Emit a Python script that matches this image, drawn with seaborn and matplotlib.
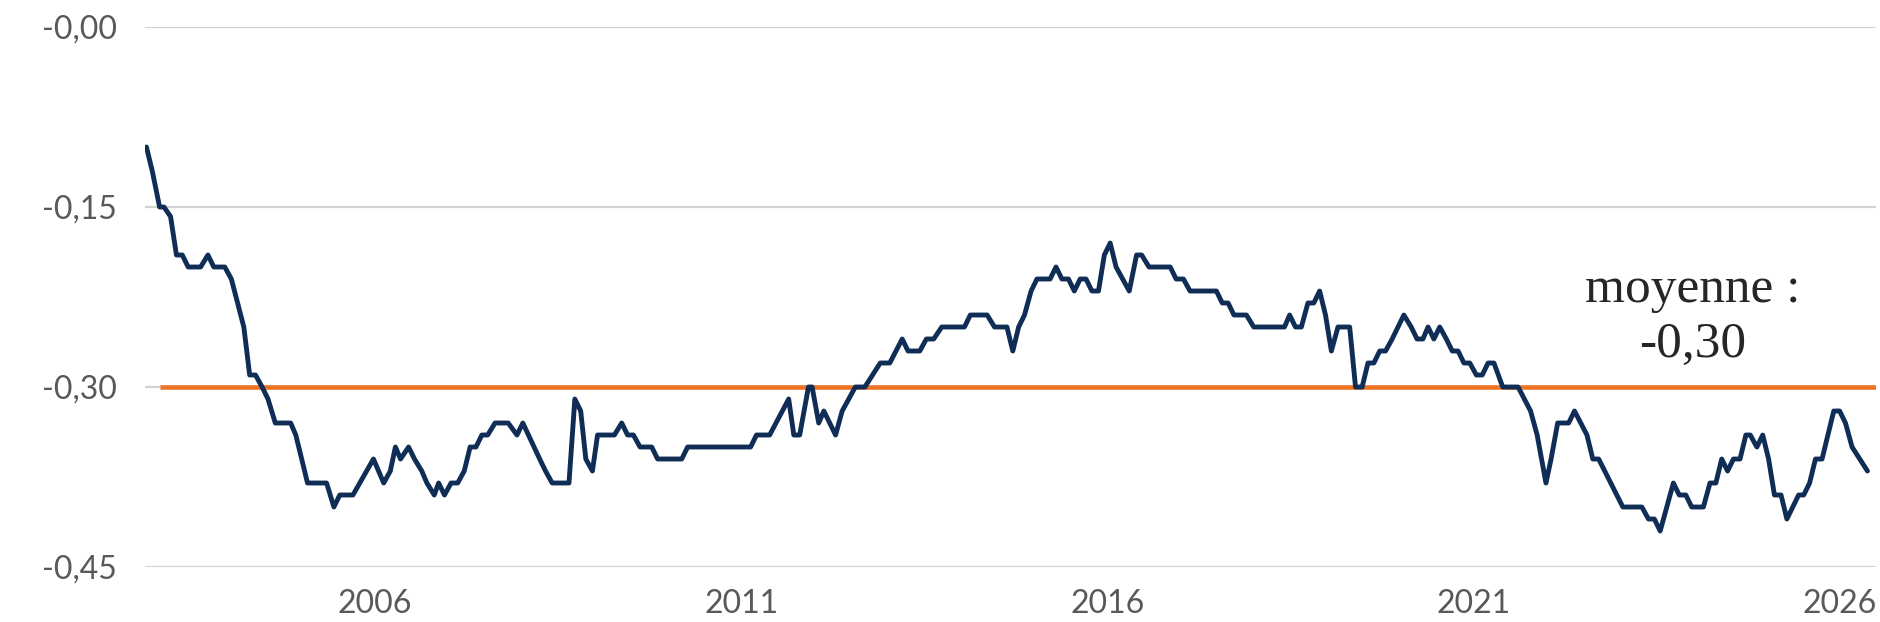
import matplotlib
matplotlib.use("Agg")
import matplotlib.pyplot as plt
import numpy as np
import pandas as pd
import seaborn as sns

# =========================
# données
# =========================

years = [
    2002.88, 2002.96, 2003.06, 2003.12, 2003.21, 2003.29, 2003.37, 2003.45, 2003.62, 2003.72,
    2003.80, 2003.95, 2004.04, 2004.21, 2004.29, 2004.37, 2004.46, 2004.54, 2004.64, 2004.85,
    2004.92, 2005.00, 2005.08, 2005.34, 2005.44, 2005.52, 2005.70, 2005.98, 2006.12, 2006.21,
    2006.28, 2006.35, 2006.46, 2006.54, 2006.64, 2006.71, 2006.81, 2006.87, 2006.95, 2007.04,
    2007.13, 2007.22, 2007.30, 2007.38, 2007.46, 2007.54, 2007.64, 2007.82, 2007.94, 2008.02,
    2008.25, 2008.33, 2008.42, 2008.65, 2008.73, 2008.81, 2008.88, 2008.97, 2009.04, 2009.27,
    2009.37, 2009.45, 2009.53, 2009.62, 2009.78, 2009.86, 2010.19, 2010.27, 2011.13, 2011.21,
    2011.39, 2011.65, 2011.72, 2011.80, 2011.92, 2011.97, 2012.06, 2012.13, 2012.29, 2012.38,
    2012.56, 2012.69, 2012.90, 2013.03, 2013.20, 2013.28, 2013.44, 2013.53, 2013.63, 2013.74,
    2014.05, 2014.13, 2014.36, 2014.46, 2014.63, 2014.71, 2014.79, 2014.87, 2014.96, 2015.04,
    2015.22, 2015.30, 2015.38, 2015.47, 2015.55, 2015.63, 2015.71, 2015.79, 2015.88, 2015.96,
    2016.04, 2016.12, 2016.30, 2016.40, 2016.47, 2016.57, 2016.86, 2016.94, 2017.04, 2017.13,
    2017.49, 2017.57, 2017.65, 2017.73, 2017.90, 2018.00, 2018.42, 2018.49, 2018.57, 2018.65,
    2018.74, 2018.82, 2018.90, 2018.98, 2019.06, 2019.15, 2019.31, 2019.39, 2019.48, 2019.56,
    2019.64, 2019.72, 2019.80, 2019.89, 2020.05, 2020.15, 2020.23, 2020.31, 2020.38, 2020.46,
    2020.54, 2020.63, 2020.71, 2020.79, 2020.87, 2020.95, 2021.04, 2021.12, 2021.20, 2021.28,
    2021.40, 2021.61, 2021.78, 2021.87, 2021.99, 2022.06, 2022.15, 2022.30, 2022.38, 2022.55,
    2022.63, 2022.71, 2023.04, 2023.30, 2023.39, 2023.47, 2023.55, 2023.73, 2023.81, 2023.90,
    2023.98, 2024.14, 2024.23, 2024.31, 2024.39, 2024.47, 2024.55, 2024.64, 2024.72, 2024.78,
    2024.87, 2024.95, 2025.03, 2025.11, 2025.20, 2025.28, 2025.36, 2025.44, 2025.51, 2025.59,
    2025.67, 2025.76, 2025.84, 2025.92, 2026.00, 2026.08, 2026.17, 2026.38,
]

values = [
    -0.10, -0.12, -0.15, -0.15, -0.158, -0.19, -0.19, -0.20, -0.20, -0.19,
    -0.20, -0.20, -0.21, -0.25, -0.29, -0.29, -0.30, -0.31, -0.33, -0.33,
    -0.34, -0.36, -0.38, -0.38, -0.40, -0.39, -0.39, -0.36, -0.38, -0.37,
    -0.35, -0.36, -0.35, -0.36, -0.37, -0.38, -0.39, -0.38, -0.39, -0.38,
    -0.38, -0.37, -0.35, -0.35, -0.34, -0.34, -0.33, -0.33, -0.34, -0.33,
    -0.36, -0.37, -0.38, -0.38, -0.31, -0.32, -0.36, -0.37, -0.34, -0.34,
    -0.33, -0.34, -0.34, -0.35, -0.35, -0.36, -0.36, -0.35, -0.35, -0.34,
    -0.34, -0.31, -0.34, -0.34, -0.30, -0.30, -0.33, -0.32, -0.34, -0.32,
    -0.30, -0.30, -0.28, -0.28, -0.26, -0.27, -0.27, -0.26, -0.26, -0.25,
    -0.25, -0.24, -0.24, -0.25, -0.25, -0.27, -0.25, -0.24, -0.22, -0.21,
    -0.21, -0.20, -0.21, -0.21, -0.22, -0.21, -0.21, -0.22, -0.22, -0.19,
    -0.18, -0.20, -0.22, -0.19, -0.19, -0.20, -0.20, -0.21, -0.21, -0.22,
    -0.22, -0.23, -0.23, -0.24, -0.24, -0.25, -0.25, -0.24, -0.25, -0.25,
    -0.23, -0.23, -0.22, -0.24, -0.27, -0.25, -0.25, -0.30, -0.30, -0.28,
    -0.28, -0.27, -0.27, -0.26, -0.24, -0.25, -0.26, -0.26, -0.25, -0.26,
    -0.25, -0.26, -0.27, -0.27, -0.28, -0.28, -0.29, -0.29, -0.28, -0.28,
    -0.30, -0.30, -0.32, -0.34, -0.38, -0.36, -0.33, -0.33, -0.32, -0.34,
    -0.36, -0.36, -0.40, -0.40, -0.41, -0.41, -0.42, -0.38, -0.39, -0.39,
    -0.40, -0.40, -0.38, -0.38, -0.36, -0.37, -0.36, -0.36, -0.34, -0.34,
    -0.35, -0.34, -0.36, -0.39, -0.39, -0.41, -0.40, -0.39, -0.39, -0.38,
    -0.36, -0.36, -0.34, -0.32, -0.32, -0.33, -0.35, -0.37,
]

moyenne = -0.30
moyenne_label = ["moyenne :", "-0,30"]

yticks = [-0.45, -0.30, -0.15, 0.0]
ytick_labels = ["-0,45", "-0,30", "-0,15", "-0,00"]
xticks = [2006, 2011, 2016, 2021, 2026]
xtick_labels = ["2006", "2011", "2016", "2021", "2026"]

df = pd.DataFrame({"annee": years, "valeur": values})

# =========================
# style
# =========================

sns.set_style("white")
plt.rcParams['font.family'] = ['Lato', 'DejaVu Sans']

NAVY = "#0f2d55"
ORANGE = "#ec7424"
GRID = "#d3d3d3"
TXT = "#595959"

fig = plt.figure(figsize=(18.8, 6.22), dpi=100)
ax = fig.add_axes([0.0771, 0.0884, 0.9209, 0.8682])

for y in yticks:
    ax.axhline(y, color=GRID, lw=1.6, zorder=0)

ax.hlines(moyenne, 2003.07, 2026.5, color=ORANGE, lw=3.3, zorder=2)

sns.lineplot(data=df, x="annee", y="valeur", color=NAVY, lw=3.5, ax=ax, zorder=3)

ax.set_xlim(2002.86, 2026.5)
ax.set_ylim(-0.45, 0.0)

ax.set_yticks(yticks)
ax.set_yticklabels(ytick_labels)
ax.set_xticks(xticks)
ax.set_xticklabels(xtick_labels)
ax.tick_params(axis='y', length=0, pad=20, labelsize=23, labelcolor=TXT)
ax.tick_params(axis='x', length=0, pad=16, labelsize=23, labelcolor=TXT)
ax.set_xlabel("")
ax.set_ylabel("")

for s in ax.spines.values():
    s.set_visible(False)

# annotation moyenne
ax.text(2024.0, -0.229, moyenne_label[0], ha='center', va='baseline',
        fontsize=37, family=['Liberation Serif', 'DejaVu Serif'], color="#262626")
ax.text(2024.0, -0.275, moyenne_label[1], ha='center', va='baseline',
        fontsize=37, family=['Liberation Serif', 'DejaVu Serif'], color="#262626")

fig.savefig("out.png", dpi=100)
